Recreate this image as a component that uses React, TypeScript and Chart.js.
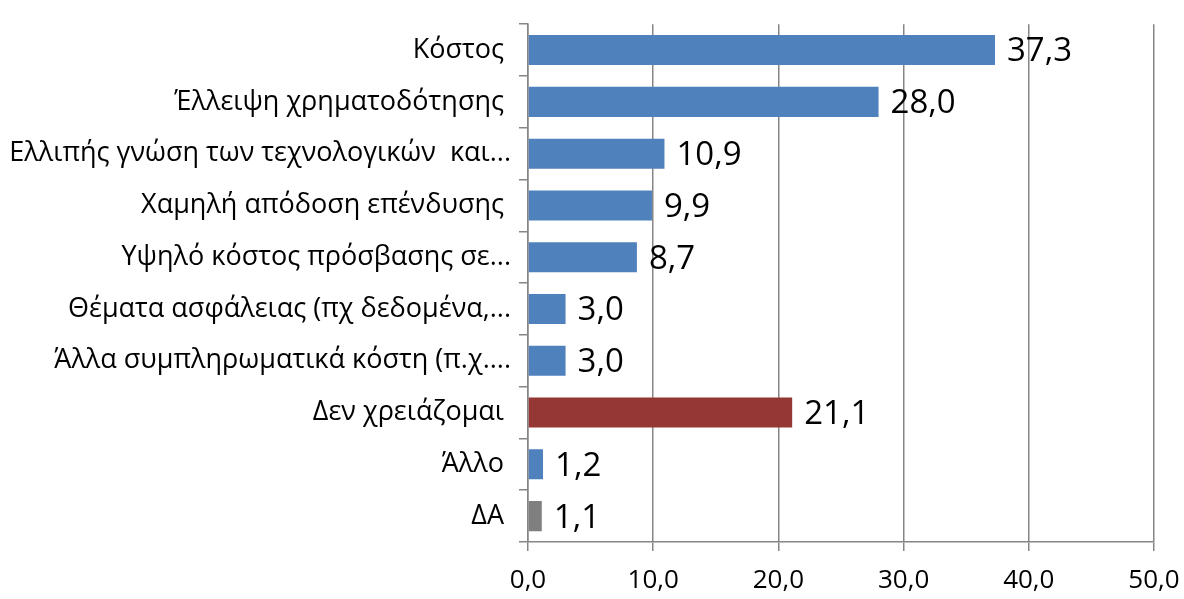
import React, { useEffect, useRef } from "react";
import { Chart, registerables } from "chart.js";

Chart.register(...registerables);

const categories = [
  "Κόστος ",
  "Έλλειψη χρηματοδότησης ",
  "Ελλιπής γνώση των τεχνολογικών  και...",
  "Χαμηλή απόδοση επένδυσης ",
  "Υψηλό κόστος πρόσβασης σε...",
  "Θέματα ασφάλειας (πχ δεδομένα,...",
  "Άλλα συμπληρωματικά κόστη (π.χ....",
  "Δεν χρειάζομαι ",
  "Άλλο ",
  "ΔΑ ",
];
const values = [37.3, 28.0, 10.9, 9.9, 8.7, 3.0, 3.0, 21.1, 1.2, 1.1];
const barColors = [
  "#4F81BD", "#4F81BD", "#4F81BD", "#4F81BD", "#4F81BD",
  "#4F81BD", "#4F81BD", "#953735", "#4F81BD", "#7F7F7F",
];
const xTicks = [0, 10, 20, 30, 40, 50];

const FONT = "'Open Sans', 'Noto Sans', sans-serif";
const fmt = (v: number) => v.toFixed(1).replace(".", ",");

const valueLabels = {
  id: "valueLabels",
  afterDatasetsDraw(chart: any) {
    const ctx = chart.ctx;
    const meta = chart.getDatasetMeta(0);
    ctx.save();
    ctx.font = `33px ${FONT}`;
    ctx.fillStyle = "#000";
    ctx.textBaseline = "middle";
    ctx.textAlign = "left";
    meta.data.forEach((bar: any, i: number) => {
      ctx.fillText(fmt(values[i]), bar.x + 12, bar.y + 2);
    });
    ctx.restore();
  },
};

export default function App() {
  const ref = useRef<HTMLCanvasElement>(null);
  useEffect(() => {
    if (!ref.current) return;
    const chart = new Chart(ref.current, {
      type: "bar",
      data: {
        labels: categories,
        datasets: [
          {
            data: values,
            backgroundColor: barColors,
            barPercentage: 0.58,
            categoryPercentage: 1,
          },
        ],
      },
      options: {
        indexAxis: "y",
        responsive: false,
        animation: false,
        devicePixelRatio: 1,
        layout: { padding: { top: 16, right: 30, left: 0, bottom: 0 } },
        plugins: { legend: { display: false }, tooltip: { enabled: false } },
        scales: {
          x: {
            min: 0,
            max: 50,
            afterBuildTicks: (s: any) => {
              s.ticks = xTicks.map((v) => ({ value: v }));
            },
            afterFit: (s: any) => {
              s.height = 57;
              s.paddingLeft = 0;
              s.paddingRight = 0;
            },
            grid: {
              color: "#868686",
              lineWidth: 1.5,
              tickLength: 9,
              drawTicks: true,
            },
            border: { color: "#868686", width: 1.5 },
            ticks: {
              callback: (v: any) => fmt(Number(v)),
              font: { family: FONT, size: 26 },
              color: "#000",
              padding: 14,
              maxRotation: 0,
            },
          },
          y: {
            afterFit: (s: any) => {
              s.width = 528;
            },
            grid: {
              offset: true,
              drawOnChartArea: false,
              color: "#868686",
              lineWidth: 1.5,
              tickLength: 9,
            },
            border: { color: "#868686", width: 1.5 },
            ticks: {
              font: { family: FONT, size: 27 },
              color: "#000",
              padding: 8,
              autoSkip: false,
            },
          },
        },
      },
      plugins: [valueLabels],
    });
    return () => chart.destroy();
  }, []);
  return (
    <div style={{ position: "absolute", left: 0, top: 0, width: 1184, height: 599, background: "#fff" }}>
      <canvas ref={ref} width={1184} height={599} />
    </div>
  );
}
